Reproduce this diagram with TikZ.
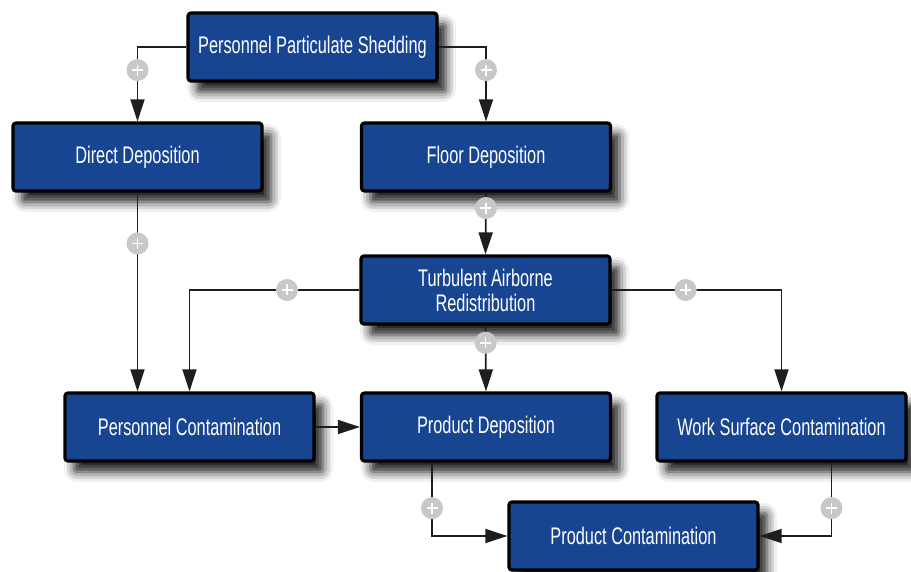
\documentclass[tikz,border=0pt]{standalone}
\usepackage{fontspec}
\usepackage{tikz}
\usetikzlibrary{arrows.meta,shadows.blur}
\newfontfamily\boxfont{Liberation Sans}[FakeStretch=0.68]
\definecolor{boxblue}{RGB}{24, 69, 145}
\definecolor{plusgray}{RGB}{200, 200, 200}
\definecolor{linegray}{RGB}{30, 30, 30}

\tikzset{
    stage/.style={draw=black, line width=3.2pt, rounded corners=3pt, fill=boxblue,
        minimum width=249pt, minimum height=68pt, inner sep=0pt, align=center,
        text=white, font=\boxfont\fontsize{24}{25}\selectfont,
        blur shadow={shadow xshift=9pt, shadow yshift=-11pt, shadow blur radius=10pt, shadow opacity=90}},
    link/.style={draw=linegray, line width=1.8pt, -{Triangle[length=22pt, width=14pt]}},
    plus/.style={circle, fill=plusgray, minimum size=22pt, inner sep=0pt,
        path picture={\draw[white, line width=1.7pt, arrows=-]
            ([xshift=-5.5pt]path picture bounding box.center) -- ([xshift=5.5pt]path picture bounding box.center)
            ([yshift=-5.5pt]path picture bounding box.center) -- ([yshift=5.5pt]path picture bounding box.center);}}
}

\begin{document}
\begin{tikzpicture}[x=1pt, y=-1pt]
            \useasboundingbox                                          (0, 0) rectangle (911, 572);
            % stages
            \node[stage] (shed)   at (312.5,  47) {Personnel Particulate Shedding};
            \node[stage] (direct) at (137.5, 157) {Direct Deposition};
            \node[stage] (floor)  at (486,   157) {Floor Deposition};
            \node[stage] (air)    at (485.5, 290) {Turbulent Airborne\\Redistribution};
            \node[stage] (pers)   at (189.5, 427) {Personnel Contamination};
            \node[stage] (prodd)  at (486,   427) {Product Deposition};
            \node[stage] (work)   at (781.5, 427) {Work Surface Contamination};
            \node[stage] (prodc)  at (633.5, 536) {Product Contamination};
            % links
            \draw[link] (shed.west)  -| (direct.north) node[plus, pos=0.655] {};
            \draw[link] (shed.east)  -| (floor.north)  node[plus, pos=0.655] {};
            \draw[link] (direct.south) -- (direct.south |- pers.north) node[plus, pos=0.256] {};
            \draw[link] (floor.south)  -- (air.north)  node[plus, pos=0.25] {};
            \draw[link] (air.west)   -| (pers.north)   node[plus, pos=0.213] {};
            \draw[link] (air.south)  -- (prodd.north)  node[plus, pos=0.26] {};
            \draw[link] (air.east)   -| (work.north)   node[plus, pos=0.218] {};
            \draw[link] (pers.east)  -- (prodd.west);
            \draw[link] ([xshift=-54pt]prodd.south) |- (prodc.west) node[plus, pos=0.31] {};
            \draw[link] ([xshift=50pt]work.south)   |- (prodc.east) node[plus, pos=0.31] {};
        \end{tikzpicture}
\end{document}
